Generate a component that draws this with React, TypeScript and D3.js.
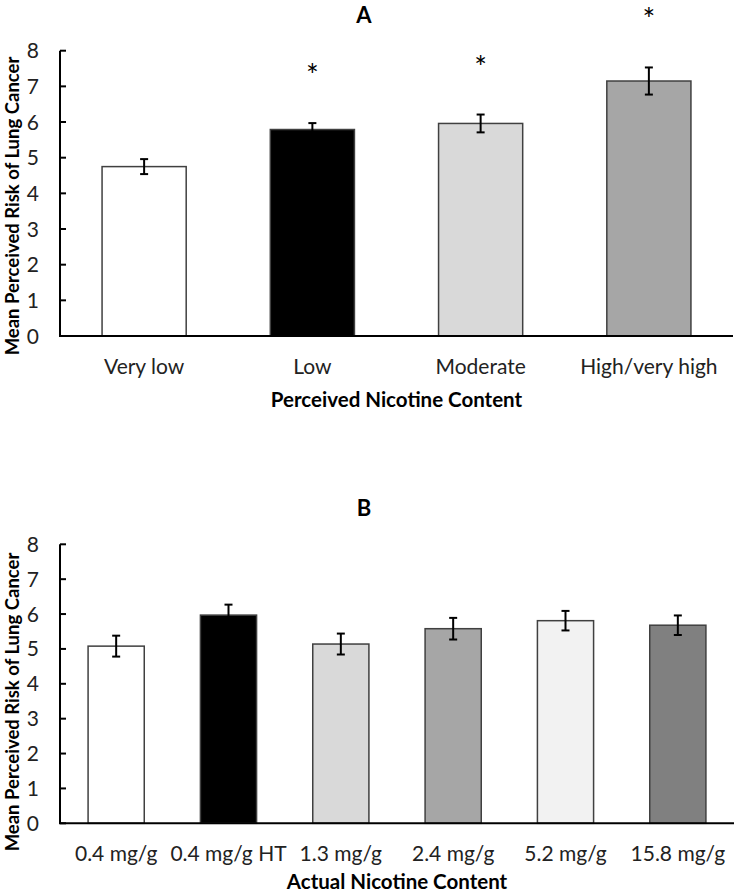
import React from "react";
import * as d3 from "d3";

const catsA = ["Very low", "Low", "Moderate", "High/very high"];
const valsA = [4.75, 5.79, 5.96, 7.15];
const errsA = [0.21, 0.18, 0.25, 0.38];
const starsA = [false, true, true, true];
const colorsA = ["#ffffff", "#000000", "#d9d9d9", "#a6a6a6"];

const catsB = ["0.4 mg/g", "0.4 mg/g HT", "1.3 mg/g", "2.4 mg/g", "5.2 mg/g", "15.8 mg/g"];
const valsB = [5.08, 5.97, 5.14, 5.58, 5.81, 5.68];
const errsB = [0.3, 0.3, 0.3, 0.31, 0.28, 0.28];
const colorsB = ["#ffffff", "#000000", "#d9d9d9", "#a6a6a6", "#f2f2f2", "#808080"];

const yTicks = [0, 1, 2, 3, 4, 5, 6, 7, 8];

const FONT = "Lato, 'Open Sans', sans-serif";

type PanelProps = {
  title: string;
  cats: string[];
  vals: number[];
  errs: number[];
  colors: string[];
  stars?: boolean[];
  xTitle: string;
  top: number;
  bottom: number;
  left: number;
  right: number;
  yLabelCenter: number;
  xTitleOffset: number;
};

function Panel(p: PanelProps) {
  const x = d3.scaleBand<string>().domain(p.cats).range([p.left, p.right]).paddingInner(0.5).paddingOuter(0.25);
  const y = d3.scaleLinear().domain([0, 8]).range([p.bottom, p.top]);
  const bw = x.bandwidth();
  const cx = (c: string) => (x(c) as number) + bw / 2;
  const midX = (p.left + p.right) / 2;
  return (
    <g>
      <text x={364} y={p.top - 28} textAnchor="middle" fontFamily={FONT} fontWeight="bold" fontSize={22}>
        {p.title}
      </text>
      {p.cats.map((c, i) => (
        <rect
          key={c}
          x={x(c)}
          y={y(p.vals[i])}
          width={bw}
          height={y(0) - y(p.vals[i])}
          fill={p.colors[i]}
          stroke="#404040"
          strokeWidth={1.5}
        />
      ))}
      {p.cats.map((c, i) => {
        const hi = y(p.vals[i] + p.errs[i]);
        const lo = y(p.vals[i] - p.errs[i]);
        const xc = cx(c);
        return (
          <g key={"e" + c} stroke="#000" strokeWidth={2}>
            <line x1={xc} x2={xc} y1={hi} y2={lo} />
            <line x1={xc - 4} x2={xc + 4} y1={hi} y2={hi} />
            <line x1={xc - 4} x2={xc + 4} y1={lo} y2={lo} />
          </g>
        );
      })}
      {p.stars &&
        p.cats.map((c, i) =>
          p.stars![i] ? (
            <text
              key={"s" + c}
              x={cx(c)}
              y={y(p.vals[i] + p.errs[i]) - 37}
              textAnchor="middle"
              fontFamily={FONT}
              fontSize={30}
            >
              *
            </text>
          ) : null
        )}
      <line x1={p.left} x2={p.left} y1={p.top} y2={p.bottom} stroke="#000" strokeWidth={2} />
      <line x1={p.left - 1} x2={p.right} y1={p.bottom} y2={p.bottom} stroke="#000" strokeWidth={2} />
      {yTicks.map((t) => (
        <g key={"t" + t}>
          <line x1={p.left} x2={p.left + 6} y1={y(t)} y2={y(t)} stroke="#000" strokeWidth={2} />
          <text
            x={p.left - 21}
            y={y(t)}
            dy="0.36em"
            textAnchor="end"
            fontFamily={FONT}
            fontSize={21}
            fill="#222"
          >
            {t}
          </text>
        </g>
      ))}
      {p.cats.map((c) => (
        <text key={"l" + c} x={cx(c)} y={p.bottom + 38} textAnchor="middle" fontFamily={FONT} fontSize={21} fill="#222">
          {c}
        </text>
      ))}
      <text x={midX} y={p.bottom + p.xTitleOffset} textAnchor="middle" fontFamily={FONT} fontWeight="bold" fontSize={20.5}>
        {p.xTitle}
      </text>
      <text
        transform={`translate(19,${p.yLabelCenter}) rotate(-90)`}
        textAnchor="middle"
        fontFamily={FONT}
        fontWeight="bold"
        fontSize={18.5}
      >
        Mean Perceived Risk of Lung Cancer
      </text>
    </g>
  );
}

export default function App() {
  return (
    <svg width={735} height={893} style={{ position: "absolute", left: 0, top: 0, background: "#fff" }}>
      <rect width={735} height={893} fill="#fff" />
      <Panel
        title="A"
        cats={catsA}
        vals={valsA}
        errs={errsA}
        colors={colorsA}
        stars={starsA}
        xTitle="Perceived Nicotine Content"
        top={50.7}
        bottom={336}
        left={60}
        right={733}
        yLabelCenter={206}
        xTitleOffset={71}
      />
      <Panel
        title="B"
        cats={catsB}
        vals={valsB}
        errs={errsB}
        colors={colorsB}
        xTitle="Actual Nicotine Content"
        top={544.3}
        bottom={823.3}
        left={60}
        right={734}
        yLabelCenter={702}
        xTitleOffset={66}
      />
    </svg>
  );
}
